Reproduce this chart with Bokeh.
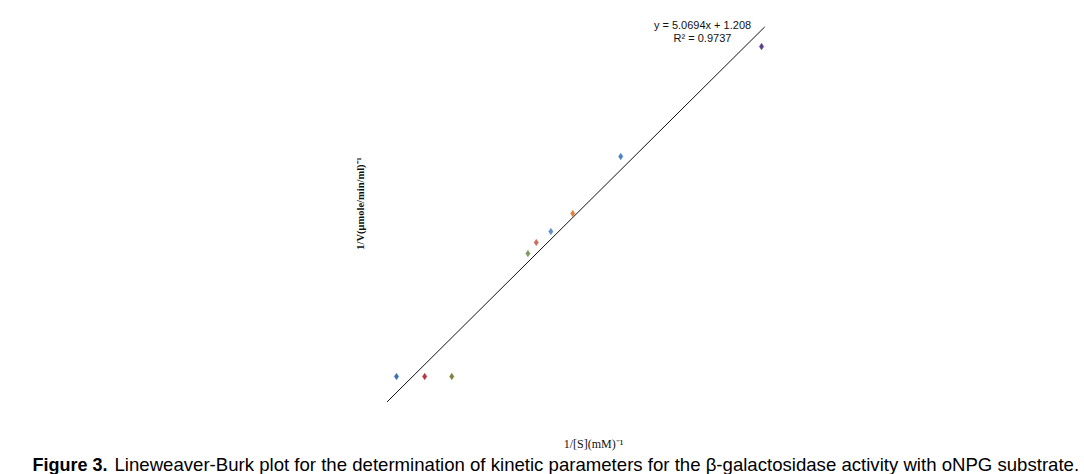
import math
from bokeh.plotting import figure
from bokeh.models import Range1d, Label, ColumnDataSource
from bokeh.embed import file_html
from bokeh.resources import INLINE

# ---- data ----
inv_s = [0.050, 0.077, 0.103, 0.176, 0.184, 0.198, 0.219, 0.265, 0.400]
inv_v = [1.540, 1.540, 1.540, 2.142, 2.196, 2.250, 2.338, 2.617, 3.155]
point_colors = ["#3d6fb4", "#b8343f", "#80803c", "#7d9b5e", "#cc6f5a",
                "#5e8fcb", "#e0803a", "#4a80c0", "#5b3f8c"]
slope = 5.0694
intercept = 1.208
r2 = 0.9737
trend_x = [0.041, 0.403]
trend_y = [slope * x + intercept for x in trend_x]

W, H = 1084, 474
p = figure(width=W, height=H, output_backend="svg", toolbar_location=None,
           x_axis_type=None, y_axis_type=None, min_border=0,
           x_range=Range1d(-0.32967, 0.70964), y_range=Range1d(1.0604, 3.3805))
p.outline_line_color = None
p.background_fill_color = "white"
p.border_fill_color = "white"

p.line(trend_x, trend_y, line_color="#111111", line_width=1)
src = ColumnDataSource(dict(x=inv_s, y=inv_v, c=point_colors))
p.scatter("x", "y", source=src, marker="diamond", size=6.5,
          fill_color="c", line_color="c", line_width=0.5)

eq1 = Label(x=702, y=450, x_units="screen", y_units="screen",
            text=f"y = {slope}x + {intercept}", text_align="center",
            text_baseline="alphabetic", text_font="Liberation Sans",
            text_font_size="11px", text_color="#111111")
eq2 = Label(x=702, y=437, x_units="screen", y_units="screen",
            text=f"R\u00b2 = {r2}", text_align="center",
            text_baseline="alphabetic", text_font="Liberation Sans",
            text_font_size="11px", text_color="#111111")
ylab = Label(x=360, y=271, x_units="screen", y_units="screen",
             text="1/V(\u03bcmole/min/ml)\u207b\u00b9", angle=math.pi / 2,
             text_align="center", text_baseline="middle",
             text_font="Liberation Serif", text_font_style="bold",
             text_font_size="10.5px", text_color="#111111")
xlab = Label(x=593, y=31, x_units="screen", y_units="screen",
             text="1/[S](mM)\u207b\u00b9", text_align="center",
             text_baseline="alphabetic", text_font="Liberation Serif",
             text_font_size="12px", text_color="#111111")
cap1 = Label(x=32, y=10, x_units="screen", y_units="screen",
             text="Figure 3.", text_align="left", text_baseline="alphabetic",
             text_font="Liberation Sans", text_font_style="bold",
             text_font_size="18px", text_color="#000000")
cap2 = Label(x=114, y=10, x_units="screen", y_units="screen",
             text="Lineweaver-Burk plot for the determination of kinetic parameters for the \u03b2-galactosidase activity with oNPG substrate.",
             text_align="left", text_baseline="alphabetic",
             text_font="Liberation Sans", text_font_size="18.6px",
             text_color="#000000")
for lab in (eq1, eq2, ylab, xlab, cap1, cap2):
    p.add_layout(lab)

open("out.html", "w").write(file_html(p, INLINE))
